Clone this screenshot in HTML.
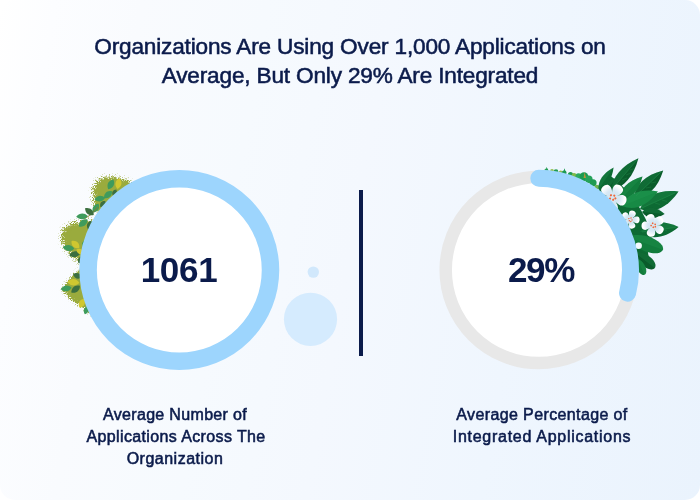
<!DOCTYPE html>
<html lang="en">
<head>
<meta charset="utf-8">
<title>Applications Infographic</title>
<style>
html,body{margin:0;padding:0;background:#ffffff;}
body{width:700px;height:500px;overflow:hidden;position:relative;font-family:"Liberation Sans",sans-serif;color:#0b1b4b;}
.card{position:absolute;left:0;top:0;width:700px;height:500px;border-radius:15px;overflow:hidden;
  background:linear-gradient(100deg,#ffffff 0%,#fcfdff 7%,#f9fbfe 18%,#f6fafe 34%,#f4f8fe 50%,#eff6fe 72%,#eaf3fd 100%);}
svg.art{position:absolute;left:0;top:0;width:700px;height:500px;display:block;}
.t{position:absolute;white-space:nowrap;text-align:center;transform:translateX(-50%);will-change:transform;}
.title{font-size:22.6px;line-height:29px;letter-spacing:-0.17px;font-weight:400;-webkit-text-stroke:0.55px #0b1b4b;}
.big{font-size:35px;line-height:40px;font-weight:700;}
.lab{font-size:16px;line-height:22px;font-weight:400;-webkit-text-stroke:0.55px #0b1b4b;}
</style>
</head>
<body>
<div class="card">
<svg class="art" viewBox="0 0 700 500">
<defs>
<filter id="stip" x="-25%" y="-25%" width="150%" height="150%">
  <feGaussianBlur in="SourceAlpha" stdDeviation="2.0" result="soft"/>
  <feTurbulence type="fractalNoise" baseFrequency="1.3" numOctaves="1" seed="11" result="n"/>
  <feColorMatrix in="n" type="matrix" values="0 0 0 0 0  0 0 0 0 0  0 0 0 0 0  3.2 0 0 0 -1.1" result="na"/>
  <feComposite in="soft" in2="na" operator="arithmetic" k1="0" k2="1" k3="0.6" k4="-0.3" result="mix"/>
  <feComponentTransfer in="mix" result="thr"><feFuncA type="linear" slope="3.4" intercept="-1.2"/></feComponentTransfer>
  <feFlood flood-color="#9aab3d" result="col"/>
  <feComposite in="col" in2="thr" operator="in"/>
</filter>
<filter id="stipw" x="-25%" y="-25%" width="150%" height="150%">
  <feGaussianBlur in="SourceAlpha" stdDeviation="3.4" result="soft"/>
  <feTurbulence type="fractalNoise" baseFrequency="1.3" numOctaves="1" seed="5" result="n"/>
  <feColorMatrix in="n" type="matrix" values="0 0 0 0 0  0 0 0 0 0  0 0 0 0 0  3.2 0 0 0 -1.1" result="na"/>
  <feComposite in="soft" in2="na" operator="arithmetic" k1="0" k2="1" k3="0.6" k4="-0.3" result="mix"/>
  <feComponentTransfer in="mix" result="thr"><feFuncA type="linear" slope="3.4" intercept="-1.2"/></feComponentTransfer>
  <feFlood flood-color="#9aab3d" result="col"/>
  <feComposite in="col" in2="thr" operator="in"/>
</filter>
<radialGradient id="pet" gradientUnits="userSpaceOnUse" cx="0" cy="0" r="1"><stop offset="0" stop-color="#c8dfee"/><stop offset="0.5" stop-color="#d8e9f4"/><stop offset="0.88" stop-color="#ffffff"/><stop offset="1" stop-color="#ffffff"/></radialGradient>
</defs>

<g id="left-foliage">
<path d="M97.7,213 C94,206 92,198 93,188.5 C94.5,180 102,176.2 110,176.5 C118,176.8 126,179 132,182.5 L140,200 L112,226Z" fill="#9aab3d" filter="url(#stipw)"/>
<path d="M91,220.2 C82,221 72,222.5 66.5,225.5 C62,229 60.8,235 61.3,238.5 C62,245 66,250 70,254 C74,258 78,261 81,263.5 L98,264 L98,221Z" fill="#9aab3d" filter="url(#stipw)"/>
<path d="M79,269 C75,273 70,278.5 67,282 C64.5,285 62.5,287 61.5,288.3 C64,292 67,296 71,299.5 C76,303.5 81,306.5 86,309 L87,314 L98,314 L98,270Z" fill="#9aab3d" filter="url(#stip)"/>
<path d="M100,211 C98,204 98.5,195 102,189 C106,183.5 114,181.5 122,182 L134,186 L140,202 L112,224Z" fill="#9aab3d"/>
<path d="M92,222.5 C84,223 76,225 72,229 C68,234 68.5,241 71,246 C74,252 79,258 83,262.5 L98,264 L98,222Z" fill="#9aab3d"/>
<path d="M80.5,270 C76,274 70,281 66,287 C66,288 65.5,289 66.5,290 L80,299 L90,306 L98,312 L98,270Z" fill="#9aab3d"/>
<path d="M-5.5,0 C-2.2,-4.0 2.5,-4.0 5.5,0 C2.5,4.0 -2.2,4.0 -5.5,0Z" fill="#3f9b5c" transform="translate(110.8,184.3) rotate(-62)" />
<path d="M-5.5,0 C-2.2,-4.0 2.5,-4.0 5.5,0 C2.5,4.0 -2.2,4.0 -5.5,0Z" fill="#cfc730" transform="translate(118.4,183.6) rotate(-80)" />
<path d="M-5.2,0 C-2.1,-3.9 2.4,-3.9 5.2,0 C2.4,3.9 -2.1,3.9 -5.2,0Z" fill="#3f9b5c" transform="translate(108.0,194.6) rotate(-40)" />
<path d="M-5.5,0 C-2.2,-3.9 2.5,-3.9 5.5,0 C2.5,3.9 -2.2,3.9 -5.5,0Z" fill="#3f9b5c" transform="translate(99.8,198.6) rotate(-8)" />
<path d="M-5.2,0 C-2.1,-3.9 2.4,-3.9 5.2,0 C2.4,3.9 -2.1,3.9 -5.2,0Z" fill="#3f9b5c" transform="translate(95.8,208.2) rotate(-58)" />
<path d="M-3.8,0 C-1.5,-3.2 1.7,-3.2 3.8,0 C1.7,3.2 -1.5,3.2 -3.8,0Z" fill="#3c6f3f" transform="translate(102.8,204.0) rotate(-50)" />
<path d="M-3.5,0 C-1.4,-2.9 1.6,-2.9 3.5,0 C1.6,2.9 -1.4,2.9 -3.5,0Z" fill="#3c6f3f" transform="translate(114.5,192.5) rotate(-60)" />
<path d="M84,219 Q91,216 98,207" stroke="#8a7a2e" stroke-width="0.9" fill="none"/>
<path d="M-5.5,0 C-2.2,-3.9 2.5,-3.9 5.5,0 C2.5,3.9 -2.2,3.9 -5.5,0Z" fill="#3c6f3f" transform="translate(89.4,211.6) rotate(38)" />
<path d="M-5.8,0 C-2.3,-3.8 2.6,-3.8 5.8,0 C2.6,3.8 -2.3,3.8 -5.8,0Z" fill="#3f9b5c" transform="translate(82.0,216.4) rotate(-4)" />
<path d="M-5.5,0 C-2.2,-4.0 2.5,-4.0 5.5,0 C2.5,4.0 -2.2,4.0 -5.5,0Z" fill="#3f9b5c" transform="translate(83.2,223.0) rotate(-38)" />
<path d="M-4.5,0 C-1.8,-3.4 2.0,-3.4 4.5,0 C2.0,3.4 -1.8,3.4 -4.5,0Z" fill="#3c6f3f" transform="translate(89.6,225.0) rotate(-68)" />
<path d="M-5.2,0 C-2.1,-4.1 2.4,-4.1 5.2,0 C2.4,4.1 -2.1,4.1 -5.2,0Z" fill="#cfc730" transform="translate(75.4,244.4) rotate(42)" />
<path d="M-5.8,0 C-2.3,-3.9 2.6,-3.9 5.8,0 C2.6,3.9 -2.3,3.9 -5.8,0Z" fill="#3f9b5c" transform="translate(68.5,248.0) rotate(8)" />
<path d="M-5.8,0 C-2.3,-3.8 2.6,-3.8 5.8,0 C2.6,3.8 -2.3,3.8 -5.8,0Z" fill="#3c6f3f" transform="translate(74.8,254.2) rotate(-10)" />
<path d="M-4.0,0 C-1.6,-3.2 1.8,-3.2 4.0,0 C1.8,3.2 -1.6,3.2 -4.0,0Z" fill="#3c6f3f" transform="translate(80.5,259.8) rotate(-62)" />
<path d="M-4.0,0 C-1.6,-3.2 1.8,-3.2 4.0,0 C1.8,3.2 -1.6,3.2 -4.0,0Z" fill="#3f9b5c" transform="translate(84.5,244.0) rotate(-80)" />
<path d="M-4.2,0 C-1.7,-3.4 1.9,-3.4 4.2,0 C1.9,3.4 -1.7,3.4 -4.2,0Z" fill="#cfc730" transform="translate(80.0,251.5) rotate(30)" />
<path d="M-4.0,0 C-1.6,-3.2 1.8,-3.2 4.0,0 C1.8,3.2 -1.6,3.2 -4.0,0Z" fill="#3f9b5c" transform="translate(86.0,255.5) rotate(-70)" />
<path d="M-4.8,0 C-1.9,-3.7 2.1,-3.7 4.8,0 C2.1,3.7 -1.9,3.7 -4.8,0Z" fill="#3c6f3f" transform="translate(77.4,275.8) rotate(22)" />
<path d="M-6.0,0 C-2.4,-4.4 2.7,-4.4 6.0,0 C2.7,4.4 -2.4,4.4 -6.0,0Z" fill="#cfc730" transform="translate(73.4,282.2) rotate(5)" />
<path d="M-5.5,0 C-2.2,-3.8 2.5,-3.8 5.5,0 C2.5,3.8 -2.2,3.8 -5.5,0Z" fill="#3f9b5c" transform="translate(66.2,288.4) rotate(-8)" />
<path d="M-5.5,0 C-2.2,-4.0 2.5,-4.0 5.5,0 C2.5,4.0 -2.2,4.0 -5.5,0Z" fill="#3c6f3f" transform="translate(75.6,289.2) rotate(-38)" />
<path d="M-5.0,0 C-2.0,-3.9 2.2,-3.9 5.0,0 C2.2,3.9 -2.0,3.9 -5.0,0Z" fill="#cfc730" transform="translate(81.8,303.2) rotate(-62)" />
<path d="M-4.2,0 C-1.7,-3.3 1.9,-3.3 4.2,0 C1.9,3.3 -1.7,3.3 -4.2,0Z" fill="#3f9b5c" transform="translate(86.2,310.2) rotate(-72)" />
<path d="M-3.5,0 C-1.4,-2.9 1.6,-2.9 3.5,0 C1.6,2.9 -1.4,2.9 -3.5,0Z" fill="#3f9b5c" transform="translate(84.0,283.0) rotate(-70)" />
</g>
<g id="right-foliage">
<circle cx="546.4" cy="170.6" r="2.0" fill="#27a35a"/>
<circle cx="552" cy="170.9" r="1.9" fill="#8fbf46"/>
<circle cx="556" cy="171.6" r="2.3" fill="#1f9a52"/>
<circle cx="560.7" cy="172.4" r="1.9" fill="#8fbf46"/>
<circle cx="564.2" cy="172.8" r="2.4" fill="#1f9a52"/>
<circle cx="570.5" cy="174.6" r="2.6" fill="#1f9a52"/>
<circle cx="574" cy="175.4" r="2.4" fill="#7fba4a"/>
<circle cx="578.5" cy="176.2" r="3.0" fill="#2bab62"/>
<circle cx="584" cy="176.6" r="4.4" fill="#1c9a50"/>
<circle cx="588.8" cy="179.2" r="3.8" fill="#25a25a"/>
<circle cx="593" cy="182.8" r="3.6" fill="#1f9a52"/>
<circle cx="596.8" cy="187.2" r="2.4" fill="#6fb44e"/>
<path d="M546,170 L546.6,166.8 L548,170Z M563.4,171.5 L564.4,168.2 L565.6,171.6Z" fill="#1f9a52"/>
<path d="M583.6,178 L584.6,172 L586,178Z" fill="#b8953a"/>
<path d="M602.8,187.7 A104.5,104.5 0 0 1 642.7,262.7" fill="none" stroke="#0d6a33" stroke-width="13"/>
<path d="M603.5,183.7 A108,108 0 0 1 642.3,240.2" fill="none" stroke="#0d6a33" stroke-width="21"/>
<g transform="translate(604.0,192.0) rotate(-47.1)"><path d="M0,0 C4.8,-5.4 11.5,-5.4 19.1,0 C11.5,5.4 4.8,5.4 0,0Z" fill="#0a5c2b" /><path d="M0,0 C4.8,-5.4 11.5,-5.4 19.1,0 Z" fill="#2aa35a" opacity="0.22"/></g>
<g transform="translate(598.5,189.5) rotate(-55.4)"><path d="M0,0 C6.7,-5.4 16.0,-5.4 26.6,0 C16.0,5.4 6.7,5.4 0,0Z" fill="#0d6a33" /><path d="M0,0 C6.7,-5.4 16.0,-5.4 26.6,0 Z" fill="#2aa35a" opacity="0.22"/></g>
<g transform="translate(611.5,190.0) rotate(-49.8)"><path d="M0,0 C10.4,-7.9 25.0,-7.9 41.7,0 C25.0,7.9 10.4,7.9 0,0Z" fill="#0a5c2b" /><path d="M0,0 C10.4,-7.9 25.0,-7.9 41.7,0 Z" fill="#2aa35a" opacity="0.22"/></g>
<g transform="translate(634.0,198.0) rotate(-43.4)"><path d="M0,0 C10.0,-9.1 24.1,-9.1 40.2,0 C24.1,9.1 10.0,9.1 0,0Z" fill="#0a5c2b" /><path d="M0,0 C10.0,-9.1 24.1,-9.1 40.2,0 Z" fill="#2aa35a" opacity="0.22"/></g>
<g transform="translate(640.0,209.0) rotate(-24.5)"><path d="M0,0 C10.6,-10.2 25.5,-10.2 42.4,0 C25.5,10.2 10.6,10.2 0,0Z" fill="#0d6a33" /><path d="M0,0 C10.6,-10.2 25.5,-10.2 42.4,0 Z" fill="#2aa35a" opacity="0.22"/></g>
<g transform="translate(619.0,201.0) rotate(-46.0)"><path d="M0,0 C8.5,-7.8 20.4,-7.8 33.9,0 C20.4,7.8 8.5,7.8 0,0Z" fill="#127c3c" /><path d="M0,0 C8.5,-7.8 20.4,-7.8 33.9,0 Z" fill="#2aa35a" opacity="0.22"/></g>
<g transform="translate(622.0,206.0) rotate(-22.1)"><path d="M0,0 C9.7,-9.4 23.3,-9.4 38.8,0 C23.3,9.4 9.7,9.4 0,0Z" fill="#178a45" /><path d="M0,0 C9.7,-9.4 23.3,-9.4 38.8,0 Z" fill="#2aa35a" opacity="0.22"/></g>
<g transform="translate(642.0,212.0) rotate(5.1)"><path d="M0,0 C5.7,-6.7 13.6,-6.7 22.7,0 C13.6,6.7 5.7,6.7 0,0Z" fill="#0a5c2b" /><path d="M0,0 C5.7,-6.7 13.6,-6.7 22.7,0 Z" fill="#2aa35a" opacity="0.22"/></g>
<g transform="translate(640.0,232.0) rotate(-7.4)"><path d="M0,0 C9.7,-9.7 23.4,-9.7 38.9,0 C23.4,9.7 9.7,9.7 0,0Z" fill="#0d6a33" /><path d="M0,0 C9.7,-9.7 23.4,-9.7 38.9,0 Z" fill="#2aa35a" opacity="0.22"/></g>
<g transform="translate(628.0,237.0) rotate(20.3)"><path d="M0,0 C7.4,-8.5 27.7,-9.8 35.0,-3.8 C38.0,-0.9 38.0,0.9 35.0,3.8 C27.7,9.8 7.4,8.5 0,0Z" fill="#127c3c" /><path d="M0,0 C7.4,-8.5 27.7,-9.8 35.0,-3.8 C36.9,-1.7 37.6,0 37.6,0 Z" fill="#2aa35a" opacity="0.22"/></g>
<g transform="translate(634.0,252.0) rotate(37.5)"><path d="M0,0 C5.2,-6.6 19.5,-7.6 24.7,-3.0 C26.7,-0.7 26.7,0.7 24.7,3.0 C19.5,7.6 5.2,6.6 0,0Z" fill="#0a5c2b" /><path d="M0,0 C5.2,-6.6 19.5,-7.6 24.7,-3.0 C26.0,-1.3 26.5,0 26.5,0 Z" fill="#2aa35a" opacity="0.22"/></g>
<g transform="translate(637.5,259.0) rotate(66.1)"><path d="M0,0 C3.4,-4.6 12.8,-5.3 16.2,-2.1 C17.6,-0.5 17.6,0.5 16.2,2.1 C12.8,5.3 3.4,4.6 0,0Z" fill="#127c3c" /><path d="M0,0 C3.4,-4.6 12.8,-5.3 16.2,-2.1 C17.1,-0.9 17.4,0 17.4,0 Z" fill="#2aa35a" opacity="0.22"/></g>
<path d="M613,188 L637,160 M636,196 L661,172 M642,208 L675,193 M642,232 L676,227.4" stroke="#2b9a55" stroke-width="0.7" fill="none" opacity="0.55"/>
<path d="M622,180 l5,-2 M626,175 l5,-2 M630,170 l5,-1.5 M646,188 l5,-1 M651,183 l5,-1 M655,203 l5,1.5 M662,200 l5,1.5 M655,230 l4,2 M663,229 l4,2" stroke="#2b9a55" stroke-width="0.6" fill="none" opacity="0.5"/>
<g transform="translate(612.4,197.6) rotate(-38) scale(14.40)">
<path d="M0,0.1 C-0.16,-0.25 -0.46,-0.55 -0.33,-0.84 C-0.22,-1.06 0.22,-1.06 0.33,-0.84 C0.46,-0.55 0.16,-0.25 0,0.1Z" fill="url(#pet)" transform="rotate(0)"/>
<path d="M0,0.1 C-0.16,-0.25 -0.46,-0.55 -0.33,-0.84 C-0.22,-1.06 0.22,-1.06 0.33,-0.84 C0.46,-0.55 0.16,-0.25 0,0.1Z" fill="url(#pet)" transform="rotate(72)"/>
<path d="M0,0.1 C-0.16,-0.25 -0.46,-0.55 -0.33,-0.84 C-0.22,-1.06 0.22,-1.06 0.33,-0.84 C0.46,-0.55 0.16,-0.25 0,0.1Z" fill="url(#pet)" transform="rotate(144)"/>
<path d="M0,0.1 C-0.16,-0.25 -0.46,-0.55 -0.33,-0.84 C-0.22,-1.06 0.22,-1.06 0.33,-0.84 C0.46,-0.55 0.16,-0.25 0,0.1Z" fill="url(#pet)" transform="rotate(216)"/>
<path d="M0,0.1 C-0.16,-0.25 -0.46,-0.55 -0.33,-0.84 C-0.22,-1.06 0.22,-1.06 0.33,-0.84 C0.46,-0.55 0.16,-0.25 0,0.1Z" fill="url(#pet)" transform="rotate(288)"/>
<circle r="0.36" fill="#d4e7f3"/>
<circle cx="-0.17" cy="-0.05" r="0.075" fill="#f0683a"/>
<circle cx="0.02" cy="-0.19" r="0.075" fill="#f0683a"/>
<circle cx="0.19" cy="-0.03" r="0.075" fill="#f0683a"/>
<circle cx="-0.05" cy="0.15" r="0.075" fill="#f0683a"/>
<circle cx="0.13" cy="0.17" r="0.075" fill="#f0683a"/>
</g>
<g transform="translate(630.2,219.6) rotate(20) scale(9.40)">
<path d="M0,0.1 C-0.16,-0.25 -0.46,-0.55 -0.33,-0.84 C-0.22,-1.06 0.22,-1.06 0.33,-0.84 C0.46,-0.55 0.16,-0.25 0,0.1Z" fill="url(#pet)" transform="rotate(0)"/>
<path d="M0,0.1 C-0.16,-0.25 -0.46,-0.55 -0.33,-0.84 C-0.22,-1.06 0.22,-1.06 0.33,-0.84 C0.46,-0.55 0.16,-0.25 0,0.1Z" fill="url(#pet)" transform="rotate(72)"/>
<path d="M0,0.1 C-0.16,-0.25 -0.46,-0.55 -0.33,-0.84 C-0.22,-1.06 0.22,-1.06 0.33,-0.84 C0.46,-0.55 0.16,-0.25 0,0.1Z" fill="url(#pet)" transform="rotate(144)"/>
<path d="M0,0.1 C-0.16,-0.25 -0.46,-0.55 -0.33,-0.84 C-0.22,-1.06 0.22,-1.06 0.33,-0.84 C0.46,-0.55 0.16,-0.25 0,0.1Z" fill="url(#pet)" transform="rotate(216)"/>
<path d="M0,0.1 C-0.16,-0.25 -0.46,-0.55 -0.33,-0.84 C-0.22,-1.06 0.22,-1.06 0.33,-0.84 C0.46,-0.55 0.16,-0.25 0,0.1Z" fill="url(#pet)" transform="rotate(288)"/>
<circle r="0.36" fill="#d4e7f3"/>
<circle cx="-0.17" cy="-0.05" r="0.075" fill="#f0683a"/>
<circle cx="0.02" cy="-0.19" r="0.075" fill="#f0683a"/>
<circle cx="0.19" cy="-0.03" r="0.075" fill="#f0683a"/>
<circle cx="-0.05" cy="0.15" r="0.075" fill="#f0683a"/>
<circle cx="0.13" cy="0.17" r="0.075" fill="#f0683a"/>
</g>
<g transform="translate(653.2,225.4) rotate(-20) scale(11.60)">
<path d="M0,0.1 C-0.16,-0.25 -0.46,-0.55 -0.33,-0.84 C-0.22,-1.06 0.22,-1.06 0.33,-0.84 C0.46,-0.55 0.16,-0.25 0,0.1Z" fill="url(#pet)" transform="rotate(0)"/>
<path d="M0,0.1 C-0.16,-0.25 -0.46,-0.55 -0.33,-0.84 C-0.22,-1.06 0.22,-1.06 0.33,-0.84 C0.46,-0.55 0.16,-0.25 0,0.1Z" fill="url(#pet)" transform="rotate(72)"/>
<path d="M0,0.1 C-0.16,-0.25 -0.46,-0.55 -0.33,-0.84 C-0.22,-1.06 0.22,-1.06 0.33,-0.84 C0.46,-0.55 0.16,-0.25 0,0.1Z" fill="url(#pet)" transform="rotate(144)"/>
<path d="M0,0.1 C-0.16,-0.25 -0.46,-0.55 -0.33,-0.84 C-0.22,-1.06 0.22,-1.06 0.33,-0.84 C0.46,-0.55 0.16,-0.25 0,0.1Z" fill="url(#pet)" transform="rotate(216)"/>
<path d="M0,0.1 C-0.16,-0.25 -0.46,-0.55 -0.33,-0.84 C-0.22,-1.06 0.22,-1.06 0.33,-0.84 C0.46,-0.55 0.16,-0.25 0,0.1Z" fill="url(#pet)" transform="rotate(288)"/>
<circle r="0.36" fill="#d4e7f3"/>
<circle cx="-0.17" cy="-0.05" r="0.075" fill="#f0683a"/>
<circle cx="0.02" cy="-0.19" r="0.075" fill="#f0683a"/>
<circle cx="0.19" cy="-0.03" r="0.075" fill="#f0683a"/>
<circle cx="-0.05" cy="0.15" r="0.075" fill="#f0683a"/>
<circle cx="0.13" cy="0.17" r="0.075" fill="#f0683a"/>
</g>
<circle cx="638.6" cy="245.8" r="3.3" fill="#f4f9fd"/>
</g>

<circle cx="179.3" cy="270.0" r="91.2" fill="#ffffff" stroke="#9dd5fd" stroke-width="17.5"/>
<circle cx="538.8" cy="270.0" r="93.1" fill="#ffffff" stroke="#e8e8e8" stroke-width="12.5"/>
<path d="M538.8,178.3 A91.7,91.7 0 0 1 627.54,293.11" fill="none" stroke="#9dd5fd" stroke-width="17" stroke-linecap="round"/>
<circle cx="313.3" cy="272.1" r="5.7" fill="#d1e8fc"/>
<circle cx="310.5" cy="319.3" r="26.6" fill="#d5ebfe"/>
<rect x="359" y="190" width="4" height="166" fill="#0b1b4b"/>
</svg>

<div class="t title" style="left:350px;top:32.0px;">Organizations Are Using Over 1,000 Applications on</div>
<div class="t title" style="left:350px;top:60.5px;">Average, But Only 29% Are Integrated</div>
<div class="t big" style="left:179.0px;top:250px;letter-spacing:-0.3px;">1061</div>
<div class="t big" style="left:541.0px;top:250px;letter-spacing:-1.3px;">29%</div>
<div class="t lab" style="left:175.2px;top:404.3px;letter-spacing:0.33px;">Average Number of</div>
<div class="t lab" style="left:175.5px;top:426.3px;letter-spacing:0.38px;">Applications Across The</div>
<div class="t lab" style="left:175.3px;top:448.2px;letter-spacing:0.5px;">Organization</div>
<div class="t lab" style="left:542.0px;top:404.3px;letter-spacing:0.38px;">Average Percentage of</div>
<div class="t lab" style="left:541.8px;top:426.3px;letter-spacing:0.72px;">Integrated Applications</div>
</div>
</body>
</html>
